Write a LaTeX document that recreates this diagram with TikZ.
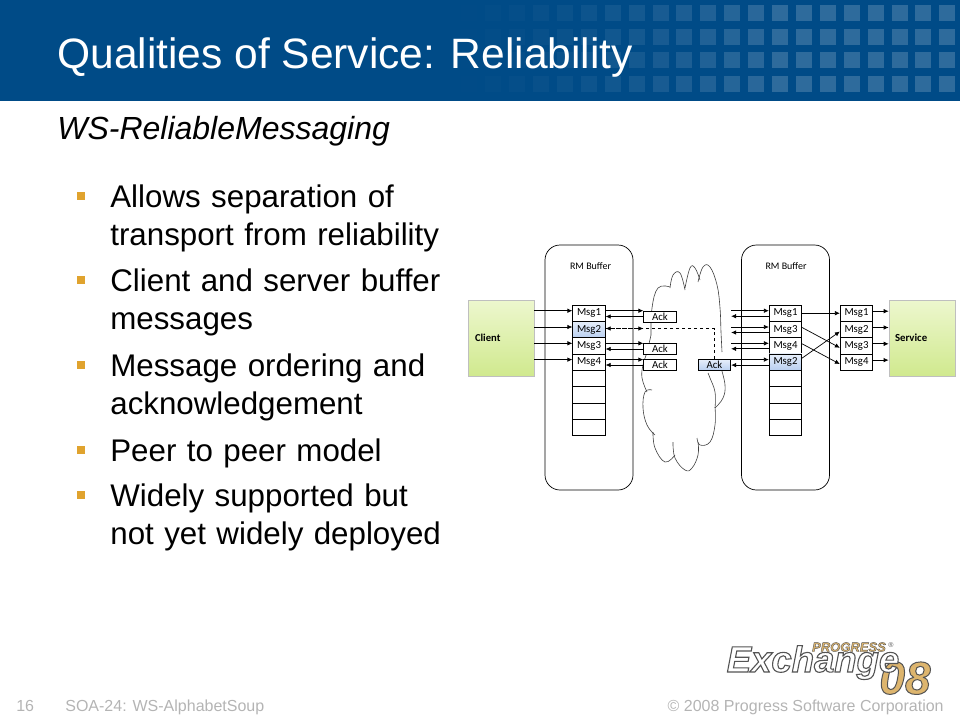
\documentclass[tikz,border=0pt]{standalone}
\usepackage{fontspec}
\setmainfont{Liberation Sans}
\newfontfamily\diagfont{Carlito}
\usetikzlibrary{arrows.meta, shapes, shadows, positioning}
\definecolor{bandblue}{HTML}{004B87}
\definecolor{bulletgold}{HTML}{E0A32E}
\definecolor{footgray}{HTML}{B4B4B4}
\definecolor{logotan}{HTML}{DDB56E}
\definecolor{logoline}{HTML}{555555}
\definecolor{celltop}{HTML}{E6EEFA}
\definecolor{cellbottom}{HTML}{B9CFF0}
\definecolor{greentop}{HTML}{EDF7CE}
\definecolor{greenbottom}{HTML}{D0E98E}
% stroked and filled letters for the logo
\newcommand{\outlined}[3]{\textcolor{#1}{\special{pdf:code q 2 Tr #2 w 0.33 G}#3\special{pdf:code Q}}}
\tikzset{
  cell/.style={draw,fill=white,minimum width=32.5pt,minimum height=16.3pt,inner sep=0pt,
    font=\diagfont\fontsize{10.8}{11}\selectfont,drop shadow={shadow xshift=.6pt,shadow yshift=-.6pt,opacity=.35}},
  blue cell/.style={cell,top color=celltop,bottom color=cellbottom},
  ack box/.style={cell,minimum height=11pt},
  end box/.style={draw=black!25,top color=greentop,bottom color=greenbottom,
    minimum width=66pt,minimum height=76pt,inner sep=0pt,
    drop shadow={shadow xshift=.6pt,shadow yshift=-1pt,opacity=.4}},
  buffer/.style={draw,rounded corners=15pt,minimum width=88pt,minimum height=245pt,inner sep=0pt},
  bullet box/.style={fill=bulletgold,minimum size=8.5pt,inner sep=0pt},
  bullet text/.style={anchor=north west,inner sep=0pt,align=left,text width=345pt,
    font=\fontsize{31.3}{38.7}\selectfont},
  foot text/.style={text=footgray,inner sep=0pt,font=\fontsize{16}{18}\selectfont},
  cloud line/.style={black!75,line width=.6pt,tension=.7}
}
\begin{document}
\begin{tikzpicture}[x=1pt,y=-1pt,>={Latex[length=5pt,width=4.5pt]},node distance=16.3pt,line width=.7pt]
  \useasboundingbox (0,0) rectangle (960,720);

  % title band
  \fill[bandblue] (0,0) rectangle (960,101);
  \foreach \k in {-16,...,7} {
    \pgfmathsetmacro\xa{772+23.9*\k}
    \pgfmathsetmacro\op{0.18*min(1,max(0.001,(\xa-420)/350))^1.6}
    \foreach \r in {5,29,52,76} {
      \fill[white,opacity=\op] (\xa,\r) rectangle ++(16,16);}
  }
  \node[text=white,anchor=base west,inner sep=0pt,font=\fontsize{42.5}{44}\selectfont] (title) at (57,68)
    {Qualities of Service: Reliability};
  \node[anchor=base west,inner sep=0pt,font=\fontsize{32}{34}\selectfont\itshape] (subtitle) at (57,139)
    {WS-ReliableMessaging};

  % bullets
  \foreach \n/\y in {1/196,2/280,3/365,4/450,5/495} {
    \node[bullet box] (b\n) at (81,\y) {};}
  \node[bullet text] (t1) at (110,184) {Allows separation of\\transport from reliability};
  \node[bullet text] (t2) at (110,268) {Client and server buffer\\messages};
  \node[bullet text] (t3) at (110,353) {Message ordering and\\acknowledgement};
  \node[bullet text] (t4) at (110,438) {Peer to peer model};
  \node[bullet text] (t5) at (110,483) {Widely supported but\\not yet widely deployed};

  % buffers
  \node[buffer] (lbuf) at (589,367.5) {};
  \node[buffer] (rbuf) at (785.5,367.5) {};
  \node[font=\diagfont\fontsize{10}{11}\selectfont] (llabel) at (590.5,266) {RM Buffer};
  \node[font=\diagfont\fontsize{10}{11}\selectfont] (rlabel) at (786,266) {RM Buffer};

  % cloud
  \draw[cloud line] plot[smooth] coordinates {(651,335) (652,308) (658,288) (670,287)};
  \draw[cloud line] plot[smooth] coordinates {(670,288) (673,275) (680,273) (685,290)};
  \draw[cloud line] plot[smooth] coordinates {(685,288) (690,268) (695,268) (700,280)};
  \draw[cloud line] plot[smooth] coordinates {(698,282) (703,267) (710,267) (717,285) (720,308) (721,332) (722,352)};
  \draw[cloud line] plot[smooth] coordinates {(708,373) (710,378) (715,392) (715,408)};
  \draw[cloud line] plot[smooth] coordinates {(721,368) (725,385) (723,398) (715,408)};
  \draw[cloud line] plot[smooth] coordinates {(715,407) (715,425) (710,442) (700,445) (697,438)};
  \draw[cloud line] plot[smooth] coordinates {(698,442) (698,455) (692,468) (685,470) (675,458) (673,442)};
  \draw[cloud line] plot[smooth] coordinates {(675,455) (665,462) (655,448) (653,432)};
  \draw[cloud line] plot[smooth] coordinates {(655,435) (647,425) (643,408) (645,392) (652,390)};
  \draw[cloud line] plot[smooth] coordinates {(647,392) (642,378) (643,365) (647,352) (651,335)};

  % left stack
  \node[cell] (lm1) at (589,313.2) {Msg1};
  \node[blue cell] (lm2) [below of=lm1] {Msg2};
  \node[cell] (lm3) [below of=lm2] {Msg3};
  \node[cell] (lm4) [below of=lm3] {Msg4};
  \node[cell] (le1) [below of=lm4] {};
  \node[cell] (le2) [below of=le1] {};
  \node[cell] (le3) [below of=le2] {};
  \node[cell] (le4) [below of=le3] {};

  % right stack
  \node[cell] (rm1) at (785.5,313.2) {Msg1};
  \node[cell] (rm3) [below of=rm1] {Msg3};
  \node[cell] (rm4) [below of=rm3] {Msg4};
  \node[blue cell] (rm2) [below of=rm4] {Msg2};
  \node[cell] (re1) [below of=rm2] {};
  \node[cell] (re2) [below of=re1] {};
  \node[cell] (re3) [below of=re2] {};
  \node[cell] (re4) [below of=re3] {};

  % service stack
  \node[cell] (sm1) at (856.5,313.2) {Msg1};
  \node[cell] (sm2) [below of=sm1] {Msg2};
  \node[cell] (sm3) [below of=sm2] {Msg3};
  \node[cell] (sm4) [below of=sm3] {Msg4};

  % end points
  \node[end box] (client) at (501,338) {};
  \node[end box] (service) at (922,338) {};
  \node[font=\diagfont\bfseries\fontsize{10.6}{11}\selectfont,inner sep=0pt,right=7pt of client.west] (clabel) {Client};
  \node[font=\diagfont\bfseries\fontsize{10.8}{11}\selectfont,inner sep=0pt,right=6pt of service.west] (slabel) {Service};

  % acks
  \node[ack box] (ack1) at (660,316.5) {Ack};
  \node[ack box] (ack3) at (660,349) {Ack};
  \node[ack box] (ack4) at (660,365) {Ack};
  \node[blue cell,minimum height=11pt] (ackb) at (714.5,365) {Ack};

  % client side
  \foreach \t in {lm1,lm2,lm3,lm4} {
    \draw[->] ([yshift=2.5pt]\t.west -| client.east) -- ([yshift=2.5pt]\t.west);}
  \foreach \s/\t in {lm1/ack1,lm3/ack3,lm4/ack4} {
    \draw[->] ([yshift=2.5pt]\s.east) -- ([yshift=2.5pt]\s.east -| \t.west);
    \draw[->] (\t.west) -- (\t.west -| \s.east);}

  % lost message
  \draw[->,dashed] (ackb.north) |- ([yshift=1pt]lm2.east);
  \draw[->,dashed] ([yshift=1pt]lm2.east) -- ([yshift=1pt]lm2.east -| ack1.west);

  % right buffer, cloud side
  \foreach \t in {rm1,rm3,rm4,rm2} {
    \draw[->] ([yshift=2.5pt]\t.west -| ackb.east) -- ([yshift=2.5pt]\t.west);
    \draw[->] ([yshift=-3pt]\t.west) -- ([yshift=-3pt]\t.west -| ackb.east);}

  % reordering
  \draw[->] (rm1.east) -- (sm1.west);
  \draw[->] ([yshift=2pt]rm3.east) -- ([yshift=-2pt]sm3.west);
  \draw[->] ([yshift=2pt]rm4.east) -- ([yshift=-2pt]sm4.west);
  \draw[->] ([yshift=4pt]rm2.east) -- ([yshift=-2pt]sm2.west);

  \foreach \s in {sm1,sm2,sm3,sm4} {
    \draw[->] ([yshift=2pt]\s.east) -- ([yshift=2pt]\s.east -| service.west);}

  % footer
  \node[foot text,anchor=base west] (page) at (16,711) {16};
  \node[foot text,anchor=base west] (course) at (65,711) {SOA-24: WS-AlphabetSoup};
  \node[foot text,anchor=base east] (copy) at (944,711) {© 2008 Progress Software Corporation};

  % logo
  \node[anchor=base,inner sep=0pt,font=\bfseries\itshape\fontsize{46}{48}\selectfont] (zeroeight) at (905,694)
    {\outlined{logotan}{1}{08}};
  \node[anchor=base,inner sep=0pt,font=\bfseries\itshape\fontsize{36.5}{40}\selectfont] (exchange) at (813,672)
    {\outlined{white}{1.1}{Exchange}};
  \node[anchor=base,inner sep=0pt,font=\itshape\bfseries\fontsize{13}{14}\selectfont] (progress) at (849,651.5)
    {\outlined{logotan}{.4}{PROGRESS}};
  \node[anchor=base,inner sep=0pt,font=\fontsize{7}{8}\selectfont,text=logoline] (reg) at (891,647) {®};
\end{tikzpicture}
\end{document}
